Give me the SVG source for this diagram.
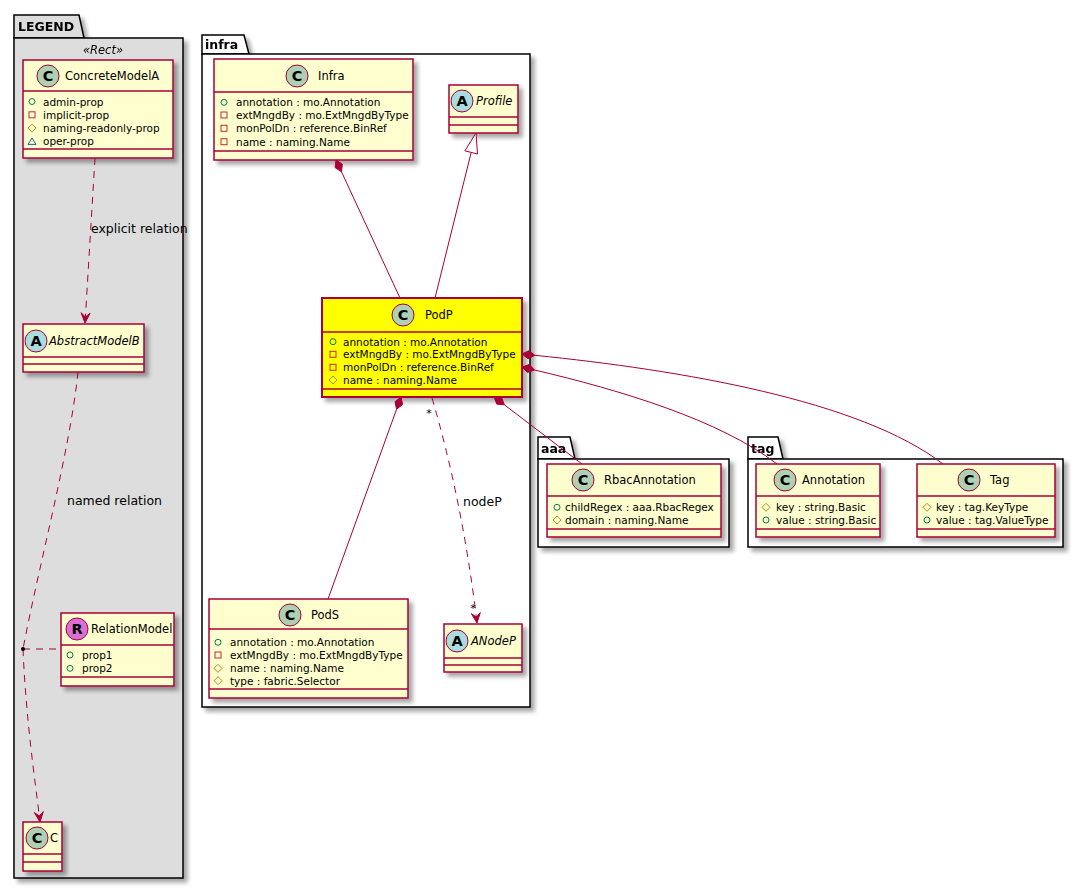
<svg xmlns="http://www.w3.org/2000/svg" xmlns:xlink="http://www.w3.org/1999/xlink" width="1083" height="889" viewBox="0 0 1083 889">
<style>
.cls{fill:#FEFECE;stroke:#A80036;stroke-width:1.5}
.hot{fill:#FFFF00;stroke:#A80036;stroke-width:2}
.sep{stroke:#A80036;stroke-width:1.5}
.ci{fill:#ADD1B2;stroke:#A80036;stroke-width:1}
.ai{fill:#A9DCDF;stroke:#A80036;stroke-width:1}
.ri{fill:#DA70D6;stroke:#A80036;stroke-width:1}
text{font-family:"DejaVu Sans",Verdana,sans-serif;fill:#000}
.lt{font-size:14.5px;font-weight:bold;text-anchor:middle}
.nm{font-size:11.5px}
.it{font-style:italic}
.at{font-size:10.5px}
.pk{fill:#FFFFFF;stroke:#000;stroke-width:1.5}
.lg{fill:#DDDDDD;stroke:#000;stroke-width:1.5}
.pn{font-size:12.5px;font-weight:bold}
.lb{font-size:12.5px}
.mu{font-size:11px;text-anchor:middle}
.cn{fill:none;stroke:#A80036;stroke-width:1}
.dh{stroke-dasharray:7,6}
.hd{fill:#A80036;stroke:#A80036;stroke-width:1}
.gh{fill:#FFFFFF;stroke:#A80036;stroke-width:1}
.pub{fill:none;stroke:#038048;stroke-width:1}
.pri{fill:none;stroke:#C82930;stroke-width:1}
.pro{fill:none;stroke:#B38D22;stroke-width:1}
.pkv{fill:none;stroke:#1963A0;stroke-width:1}
</style>
<defs>
<filter id="sh" x="-10%" y="-10%" width="130%" height="130%">
<feGaussianBlur in="SourceAlpha" stdDeviation="2"/>
<feOffset dx="4" dy="4" result="o"/>
<feComponentTransfer><feFuncA type="linear" slope="0.35"/></feComponentTransfer>
<feMerge><feMergeNode/><feMergeNode in="SourceGraphic"/></feMerge>
</filter>
<circle id="vpub" cx="0" cy="0" r="3" class="pub"/>
<rect id="vpri" x="-3" y="-3" width="6" height="6" class="pri"/>
<polygon id="vpro" points="0,-4 4,0 0,4 -4,0" class="pro"/>
<polygon id="vpkg" points="0,-3.5 4,3 -4,3" class="pkv"/>
</defs>
<rect width="1083" height="889" fill="#FFFFFF"/>

<!-- packages -->
<g id="pkg-legend" filter="url(#sh)">
<path class="lg" d="M14,38 V15 H79 L84,38 Z"/>
<rect class="lg" x="14" y="38" width="169" height="840"/>
<text class="pn" x="18" y="31">LEGEND</text>
<text class="nm it" x="103" y="54" text-anchor="middle">«Rect»</text>
</g>
<g id="pkg-infra" filter="url(#sh)">
<path class="pk" d="M202,54 V35 H244 L249,54 Z"/>
<rect class="pk" x="202" y="54" width="328" height="653"/>
<text class="pn" x="205" y="49">infra</text>
</g>
<g id="pkg-aaa" filter="url(#sh)">
<path class="pk" d="M538,459 V437 H570 L575,459 Z"/>
<rect class="pk" x="538" y="459" width="191" height="88"/>
<text class="pn" x="541" y="453">aaa</text>
</g>
<g id="pkg-tag" filter="url(#sh)">
<path class="pk" d="M748,459 V437 H778 L783,459 Z"/>
<rect class="pk" x="748" y="459" width="315" height="88"/>
<text class="pn" x="751" y="453">tag</text>
</g>

<!-- classes -->
<g id="ConcreteModelA">
<rect class="cls" filter="url(#sh)" x="23" y="60" width="150" height="98"/>
<line class="sep" x1="23" y1="91" x2="173" y2="91"/>
<line class="sep" x1="23" y1="149" x2="173" y2="149"/>
<circle class="ci" cx="48" cy="76" r="11"/><text class="lt" x="48" y="81">C</text>
<text class="nm" x="65" y="80">ConcreteModelA</text>
<use href="#vpub" x="32" y="101.5"/><text class="at" x="43" y="105.5">admin-prop</text>
<use href="#vpri" x="32" y="114.8"/><text class="at" x="43" y="118.8">implicit-prop</text>
<use href="#vpro" x="32" y="128.1"/><text class="at" x="43" y="132.1">naming-readonly-prop</text>
<use href="#vpkg" x="32" y="141.4"/><text class="at" x="43" y="145.4">oper-prop</text>
</g>
<g id="AbstractModelB">
<rect class="cls" filter="url(#sh)" x="23" y="324" width="121" height="48"/>
<line class="sep" x1="23" y1="357" x2="144" y2="357"/>
<line class="sep" x1="23" y1="364" x2="144" y2="364"/>
<circle class="ai" cx="36" cy="341" r="11"/><text class="lt" x="36" y="346">A</text>
<text class="nm it" x="49" y="345">AbstractModelB</text>
</g>
<g id="RelationModel">
<rect class="cls" filter="url(#sh)" x="61" y="613" width="113" height="73"/>
<line class="sep" x1="61" y1="645" x2="174" y2="645"/>
<line class="sep" x1="61" y1="677" x2="174" y2="677"/>
<circle class="ri" cx="77" cy="629" r="11"/><text class="lt" x="77" y="634">R</text>
<text class="nm" x="91" y="633">RelationModel</text>
<use href="#vpub" x="70" y="655"/><text class="at" x="82" y="659">prop1</text>
<use href="#vpub" x="70" y="668.3"/><text class="at" x="82" y="672.3">prop2</text>
</g>
<g id="C">
<rect class="cls" filter="url(#sh)" x="23" y="822" width="39" height="49"/>
<line class="sep" x1="23" y1="854" x2="62" y2="854"/>
<line class="sep" x1="23" y1="862" x2="62" y2="862"/>
<circle class="ci" cx="37" cy="838" r="11"/><text class="lt" x="37" y="843">C</text>
<text class="nm" x="50" y="842">C</text>
</g>
<g id="Infra">
<rect class="cls" filter="url(#sh)" x="214" y="59" width="199" height="101"/>
<line class="sep" x1="214" y1="92" x2="413" y2="92"/>
<line class="sep" x1="214" y1="151" x2="413" y2="151"/>
<circle class="ci" cx="297" cy="76" r="11"/><text class="lt" x="297" y="81">C</text>
<text class="nm" x="318" y="80">Infra</text>
<use href="#vpub" x="224" y="102.3"/><text class="at" x="236" y="106.3">annotation : mo.Annotation</text>
<use href="#vpri" x="224" y="115"/><text class="at" x="236" y="119">extMngdBy : mo.ExtMngdByType</text>
<use href="#vpri" x="224" y="128.3"/><text class="at" x="236" y="132.3">monPolDn : reference.BinRef</text>
<use href="#vpri" x="224" y="141.7"/><text class="at" x="236" y="145.7">name : naming.Name</text>
</g>
<g id="Profile">
<rect class="cls" filter="url(#sh)" x="449" y="85" width="69" height="48"/>
<line class="sep" x1="449" y1="117" x2="518" y2="117"/>
<line class="sep" x1="449" y1="125" x2="518" y2="125"/>
<circle class="ai" cx="462" cy="101" r="11"/><text class="lt" x="462" y="106">A</text>
<text class="nm it" x="476" y="105">Profile</text>
</g>
<g id="PodP">
<rect class="hot" filter="url(#sh)" x="322" y="298" width="200" height="99"/>
<line class="sep" x1="322" y1="332" x2="522" y2="332"/>
<line class="sep" x1="322" y1="389" x2="522" y2="389"/>
<circle class="ci" cx="403" cy="315" r="11"/><text class="lt" x="403" y="320">C</text>
<text class="nm" x="425" y="319">PodP</text>
<use href="#vpub" x="333" y="341.7"/><text class="at" x="343" y="345.7">annotation : mo.Annotation</text>
<use href="#vpri" x="333" y="354.3"/><text class="at" x="343" y="358.3">extMngdBy : mo.ExtMngdByType</text>
<use href="#vpri" x="333" y="367.3"/><text class="at" x="343" y="371.3">monPolDn : reference.BinRef</text>
<use href="#vpro" x="333" y="380"/><text class="at" x="343" y="384">name : naming.Name</text>
</g>
<g id="PodS">
<rect class="cls" filter="url(#sh)" x="209" y="599" width="199" height="99"/>
<line class="sep" x1="209" y1="629" x2="408" y2="629"/>
<line class="sep" x1="209" y1="689" x2="408" y2="689"/>
<circle class="ci" cx="290" cy="615" r="11"/><text class="lt" x="290" y="620">C</text>
<text class="nm" x="311" y="619">PodS</text>
<use href="#vpub" x="218" y="642.3"/><text class="at" x="230" y="646.3">annotation : mo.Annotation</text>
<use href="#vpri" x="218" y="655"/><text class="at" x="230" y="659">extMngdBy : mo.ExtMngdByType</text>
<use href="#vpro" x="218" y="668.3"/><text class="at" x="230" y="672.3">name : naming.Name</text>
<use href="#vpro" x="218" y="680.7"/><text class="at" x="230" y="684.7">type : fabric.Selector</text>
</g>
<g id="ANodeP">
<rect class="cls" filter="url(#sh)" x="444" y="624" width="78" height="48"/>
<line class="sep" x1="444" y1="658" x2="522" y2="658"/>
<line class="sep" x1="444" y1="665" x2="522" y2="665"/>
<circle class="ai" cx="457" cy="641" r="11"/><text class="lt" x="457" y="646">A</text>
<text class="nm it" x="471" y="645">ANodeP</text>
</g>
<g id="RbacAnnotation">
<rect class="cls" filter="url(#sh)" x="547" y="464" width="174" height="73"/>
<line class="sep" x1="547" y1="496" x2="721" y2="496"/>
<line class="sep" x1="547" y1="529" x2="721" y2="529"/>
<circle class="ci" cx="583" cy="480" r="11"/><text class="lt" x="583" y="485">C</text>
<text class="nm" x="604" y="484">RbacAnnotation</text>
<use href="#vpub" x="557" y="507.3"/><text class="at" x="565" y="511.3">childRegex : aaa.RbacRegex</text>
<use href="#vpro" x="557" y="520"/><text class="at" x="565" y="524">domain : naming.Name</text>
</g>
<g id="Annotation">
<rect class="cls" filter="url(#sh)" x="756" y="464" width="124" height="73"/>
<line class="sep" x1="756" y1="496" x2="880" y2="496"/>
<line class="sep" x1="756" y1="529" x2="880" y2="529"/>
<circle class="ci" cx="785" cy="480" r="11"/><text class="lt" x="785" y="485">C</text>
<text class="nm" x="802" y="484">Annotation</text>
<use href="#vpro" x="766" y="507.3"/><text class="at" x="776" y="511.3">key : string.Basic</text>
<use href="#vpub" x="766" y="520"/><text class="at" x="776" y="524">value : string.Basic</text>
</g>
<g id="Tag">
<rect class="cls" filter="url(#sh)" x="917" y="464" width="138" height="73"/>
<line class="sep" x1="917" y1="496" x2="1055" y2="496"/>
<line class="sep" x1="917" y1="529" x2="1055" y2="529"/>
<circle class="ci" cx="969" cy="480" r="11"/><text class="lt" x="969" y="485">C</text>
<text class="nm" x="990" y="484">Tag</text>
<use href="#vpro" x="927" y="507.3"/><text class="at" x="936" y="511.3">key : tag.KeyType</text>
<use href="#vpub" x="927" y="520"/><text class="at" x="936" y="524">value : tag.ValueType</text>
</g>

<!-- connectors -->
<g id="connectors">
<path class="cn dh" d="M95,158 L85.4,317"/>
<polygon class="hd" points="85,323 90.1,313.3 85.4,317 81.1,312.7"/>
<text class="lb" x="91" y="233">explicit relation</text>

<path class="cn dh" d="M78,372 C70,450 40,560 23,649"/>
<path class="cn dh" d="M23,649 C26,720 35,780 39.3,816"/>
<polygon class="hd" points="40,822 43.3,811.6 39.3,816 34.3,812.6"/>
<path class="cn dh" d="M23,649 L61,649"/>
<circle cx="23" cy="649" r="2" fill="#000"/>
<text class="lb" x="67" y="505">named relation</text>

<path class="cn" d="M341.5,171.8 L400,298"/>
<polygon class="hd" points="336,160 335.1,167.6 341.5,171.8 342.3,164.2"/>

<path class="cn" d="M435,298 L471.2,152.4"/>
<polygon class="gh" points="476,133 477.5,154 464.9,150.8"/>

<path class="cn" d="M396.6,409.2 L328,599"/>
<polygon class="hd" points="401,397 402.6,404.5 396.6,409.2 395,401.7"/>

<path class="cn dh" d="M432,398 Q462,500 476.3,617"/>
<polygon class="hd" points="477,623 480.3,612.6 476.3,617 471.3,613.6"/>
<text class="mu" x="429" y="417">*</text>
<text class="mu" x="473" y="612">*</text>
<text class="lb" x="463" y="506">nodeP</text>

<path class="cn" d="M504.4,404.8 L582,464"/>
<polygon class="hd" points="494,397 496.8,404.1 504.4,404.8 501.6,397.7"/>

<path class="cn" d="M534.6,370 C620,390 720,420 777,464"/>
<polygon class="hd" points="522,367 527.4,372.4 534.6,370 529.2,364.6"/>

<path class="cn" d="M534.9,355.3 C680,370 860,400 943,464"/>
<polygon class="hd" points="522,354 528.1,358.7 534.9,355.3 528.9,350.7"/>
</g>
</svg>
